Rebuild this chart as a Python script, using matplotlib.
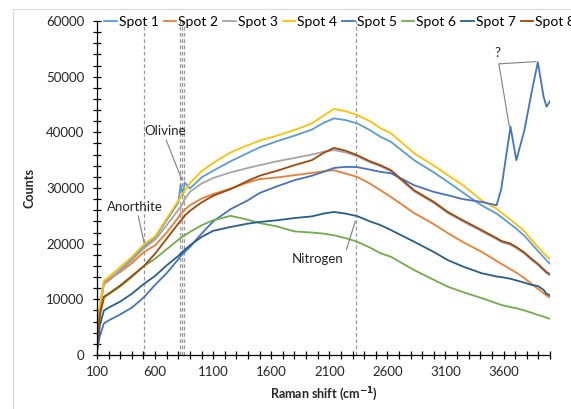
import matplotlib
matplotlib.use("Agg")
import matplotlib.pyplot as plt
from matplotlib.ticker import FixedLocator, MultipleLocator, NullFormatter
from matplotlib.patches import Rectangle

plt.rcParams['font.family'] = ['Lato', 'DejaVu Sans']
plt.rcParams['mathtext.fontset'] = 'dejavusans'

# Raman shift sample points (cm-1)
shift = [100, 125, 160, 200, 300, 400, 505, 600, 700, 800,
         820, 840, 855, 900, 1000, 1100, 1250, 1400, 1500, 1650,
         1800, 1950, 2050, 2140, 2240, 2340, 2450, 2540, 2630, 2830,
         3000, 3120, 3250, 3410, 3540, 3580, 3660, 3710, 3780, 3840,
         3895, 3945, 3970, 4000]

spot1 = [800, 8500, 12900, 13500, 15300, 17300, 19500, 21100, 24200, 27400,
         30600, 28700, 31000, 29900, 31900, 33100, 34800, 36300, 37300, 38400,
         39400, 40500, 41700, 42500, 42200, 41600, 40400, 39200, 38300, 35000,
         32800, 31100, 29200, 26900, 25400, 24800, 23500, 22700, 21400, 20000,
         18700, 17600, 17000, 16400]
spot2 = [700, 8800, 13200, 13600, 14900, 16500, 18500, 19700, 22000, 24700,
         25400, 25700, 26100, 26900, 28100, 28900, 29900, 31000, 31600, 31900,
         32300, 32700, 33000, 33200, 32600, 32000, 30800, 29600, 28400, 25500,
         23500, 21900, 20300, 18550, 16900, 16400, 15400, 14800, 13800, 12800,
         11900, 11100, 10700, 10300]
spot3 = [800, 8600, 12700, 13300, 15100, 17000, 19200, 20700, 23300, 26100,
         26600, 27300, 28000, 29300, 30800, 31800, 32800, 33600, 34100, 34800,
         35400, 36000, 36500, 36800, 36400, 35700, 34600, 33900, 33000, 29400,
         27300, 25500, 24000, 22250, 20800, 20300, 19800, 19200, 18200, 17100,
         16200, 15200, 14700, 14300]
spot4 = [900, 9000, 13300, 14000, 15800, 17600, 19900, 21300, 24500, 27700,
         28500, 29000, 29500, 30900, 33000, 34500, 36400, 37700, 38500, 39400,
         40400, 41600, 43000, 44200, 43800, 43100, 42000, 40750, 39850, 36250,
         34000, 32300, 30500, 27800, 26300, 25600, 24300, 23500, 22200, 20700,
         19400, 18300, 17800, 17200]
spot5 = [600, 3500, 5700, 6200, 7300, 8500, 10400, 12600, 14700, 17200,
         17800, 18200, 18500, 19400, 21800, 24000, 26200, 27800, 29100, 30300,
         31400, 32200, 32900, 33600, 33800, 33750, 33300, 32900, 32650, 30500,
         29300, 28700, 28000, 27500, 26900, 29800, 41000, 35000, 40400, 47000,
         52600, 46400, 44600, 45600]
spot6 = [800, 7000, 10300, 10900, 12300, 14000, 16000, 17300, 19000, 20700,
         21000, 21300, 21500, 22100, 23300, 24200, 25000, 24300, 23700, 23100,
         22200, 22000, 21800, 21500, 21000, 20350, 19300, 18300, 17650, 15260,
         13500, 12270, 11300, 10230, 9300, 9000, 8600, 8400, 8000, 7600,
         7200, 6900, 6700, 6500]
spot7 = [700, 5500, 8000, 8500, 9600, 11000, 12800, 14200, 16100, 17800,
         18200, 18600, 18900, 19700, 21200, 22300, 23000, 23600, 23900, 24200,
         24600, 24900, 25400, 25700, 25400, 24950, 24000, 23340, 22450, 20350,
         18500, 17050, 15900, 14700, 14100, 14000, 13700, 13400, 13000, 12600,
         12400, 11700, 11000, 10700]
spot8 = [700, 7500, 10500, 11000, 12500, 14200, 16000, 18200, 20900, 23600,
         24100, 24600, 25000, 25900, 27400, 28600, 29800, 31300, 32200, 33100,
         34100, 35000, 36300, 37200, 36700, 35900, 34800, 34100, 33200, 29600,
         27500, 25700, 24200, 22450, 21000, 20500, 20000, 19400, 18400, 17300,
         16400, 15400, 14900, 14500]

spots = [spot1, spot2, spot3, spot4, spot5, spot6, spot7, spot8]
names = ["Spot 1", "Spot 2", "Spot 3", "Spot 4", "Spot 5", "Spot 6", "Spot 7", "Spot 8"]
colors = ["#5B9BD5", "#ED7D31", "#A5A5A5", "#FFC000", "#4472C4", "#70AD47", "#255E91", "#9E480E"]

# reference lines (cm-1)
ref_lines = [505, 812, 830, 850, 2331]

xticks = [100, 600, 1100, 1600, 2100, 2600, 3100, 3600]
yticks = [0, 10000, 20000, 30000, 40000, 50000, 60000]

fig = plt.figure(figsize=(5.71, 4.09), dpi=100)

# screenshot frame and cut off caption above the chart
fig.patches.append(Rectangle((13 / 571, -0.1), 1.0, 1.1 - 9 / 409, transform=fig.transFigure,
                             fill=False, edgecolor="#D9D9D9", lw=0.8))
fig.text(0.0, 0.999, "RS050 sub collected at U-TAPE.", fontsize=15, fontweight="bold",
         color="#222222", va="baseline", ha="left")

axes = fig.add_axes([97 / 571, 54 / 409, (550 - 97) / 571, (355 - 21) / 409])

for x in ref_lines:
    axes.plot([x, x], [0, 60000], color="#999999", lw=0.9, ls=(0, (3, 2)), zorder=1)

handles = []
for vals, name, col in zip(spots, names, colors):
    h, = axes.plot(shift, vals, color=col, lw=1.3, label=name, zorder=2)
    handles.append(h)

axes.set_xlim(100, 4000)
axes.set_ylim(0, 60000)

axes.xaxis.set_major_locator(FixedLocator(xticks))
axes.xaxis.set_minor_locator(MultipleLocator(100))
axes.yaxis.set_major_locator(FixedLocator(yticks))
axes.yaxis.set_minor_locator(MultipleLocator(2000))
axes.xaxis.set_minor_formatter(NullFormatter())
axes.set_xticklabels([str(t) for t in xticks])
axes.set_yticklabels([str(t) for t in yticks])
axes.tick_params(which="both", direction="inout", length=6, width=0.9, color="black",
                 labelsize=9.5, labelcolor="#262626")
axes.tick_params(axis="x", pad=5)
axes.tick_params(axis="y", pad=6)

for s in ["top", "right"]:
    axes.spines[s].set_visible(False)
for s in ["left", "bottom"]:
    axes.spines[s].set_linewidth(0.9)

axes.set_ylabel("Counts", fontsize=9, fontweight="bold", color="#262626", labelpad=8)
axes.set_xlabel(r"Raman shift (cm$^{\mathbf{-1}}$)", fontsize=9, fontweight="bold",
                color="#262626", labelpad=5)

lead = dict(arrowstyle="-", color="#7F7F7F", lw=0.8, shrinkA=0, shrinkB=0)
axes.annotate("Anorthite", xy=(505, 20200), xytext=(425, 26600), fontsize=9.5, color="#262626",
              ha="center", va="center",
              arrowprops=dict(lead, relpos=(0.55, 0.0)))
axes.annotate("Olivine", xy=(832, 31400), xytext=(686, 40200), fontsize=9.5, color="#262626",
              ha="center", va="center",
              arrowprops=dict(lead, relpos=(0.5, 0.0)))
axes.annotate("Nitrogen", xy=(2325, 24100), xytext=(2000, 17300), fontsize=9.5, color="#262626",
              ha="center", va="center",
              arrowprops=dict(lead, relpos=(1.0, 0.5)))
axes.text(3545, 54300, "?", fontsize=9.5, color="#262626", ha="center", va="center")
axes.annotate("", xy=(3880, 52700), xytext=(3560, 52300), arrowprops=lead)
axes.annotate("", xy=(3650, 41000), xytext=(3560, 52300), arrowprops=lead)

fig.legend(handles=handles, loc="center left", bbox_to_anchor=(104 / 571, 1 - 22 / 409),
           ncol=8, frameon=False, fontsize=10, handlelength=0.9, handletextpad=0.15,
           columnspacing=0.36, borderpad=0, borderaxespad=0)

fig.savefig("out.png", dpi=100)
